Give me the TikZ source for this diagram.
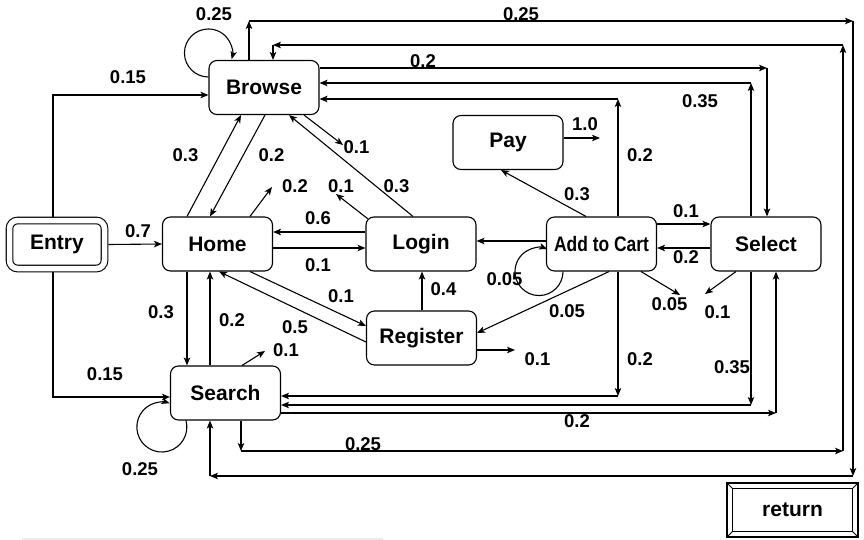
\documentclass[tikz,border=0pt]{standalone}
\usepackage{fontspec}
\usepackage{graphicx}
\setmainfont{Liberation Sans}
\usetikzlibrary{arrows.meta}

\tikzset{
  page/.style={draw, rounded corners=8pt, minimum width=110pt, minimum height=54pt, inner sep=0pt,
    font=\fontsize{21}{24}\selectfont\bfseries},
  lbl/.style={inner sep=0pt, font=\fontsize{18.5}{20}\selectfont\bfseries},
}

\begin{document}
\begin{tikzpicture}[x=1pt, y=-1pt, line width=1.1pt, >={Stealth[length=8pt,width=6.5pt,inset=2pt]}]
    \useasboundingbox (0,0) rectangle (864,540);
    % pages
    \node[page, double, double distance=5.5pt, outer sep=3.9pt, minimum width=95pt, minimum height=48pt] (entry) at (57,244.5) {Entry};
    \node[page] (browse) at (264,87.5) {Browse};
    \node[page] (pay) at (508,142.5) {Pay};
    \node[page] (home) at (217.5,244) {Home};
    \node[page] (login) at (421,244) {Login};
    \node[page] (cart) at (601.5,244) {\scalebox{0.83}[1]{Add to Cart}};
    \node[page] (select) at (766,244) {Select};
    \node[page] (register) at (421.5,338) {Register};
    \node[page] (search) at (225.5,393) {Search};
    \node[page, rounded corners=0pt, minimum width=131pt] (ret) at (792.5,510) {return};
    \draw[line width=0.8pt] ([shift={(6pt,-6pt)}]ret.north west) rectangle ([shift={(-6pt,6pt)}]ret.south east);
    \foreach \a/\dx/\dy in {north west/6pt/-6pt, north east/-6pt/-6pt, south west/6pt/6pt, south east/-6pt/6pt}
        \draw[line width=0.8pt] (ret.\a) -- ++(\dx,\dy);
    \fill[black!8] (22,538) rectangle (383,540);
    % free ends
    \coordinate (homeout) at (272,187);
    \coordinate (browseout) at (343,145);
    \coordinate (loginout) at (336,194);
    \coordinate (searchout) at (265,351);
    \coordinate (registerout) at (515,350);
    \coordinate (payout) at (600,138);
    \coordinate (cartout) at (680,295);
    \coordinate (selectout) at (705,294);
    % entry
    \draw[->] (entry.east) -- (home.west);
    \draw[->] (entry.north -| 53,0) |- (browse.west |- 0,95);
    \draw[->] (entry.south -| 53,0) |- (search.west |- 0,397);
    % self loops
    \draw[->] (browse.west |- 0,77) arc[start angle=-90, end angle=-375, radius=24pt];
    \draw[->] (search.south -| 186,0) arc[start angle=15, end angle=-288, radius=25pt];
    \draw[->] (cart.south -| 563,0) arc[start angle=0, end angle=-290, radius=24pt];
    % straight links
    \draw[->] (browse.south -| 265,0) -- (home.north -| 210,0);
    \draw[->] (home.north -| 187,0) -- (browse.south -| 241,0);
    \draw[->] (home.north -| 250,0) -- (homeout);
    \draw[->] (browse.south -| 304,0) -- (browseout);
    \draw[->] (login.north -| 413,0) -- (browse.south -| 289,0);
    \draw[->] ([shift={(2.3pt,-2.3pt)}]login.north west) -- (loginout);
    \draw[->] (login.west |- 0,232) -- (home.east |- 0,232);
    \draw[->] (home.east |- 0,248) -- (login.west |- 0,248);
    \draw[->] (home.south -| 250,0) -- (register.west |- 0,326);
    \draw[->] (register.west |- 0,342) -- (home.south -| 219,0);
    \draw[->] (home.south -| 187,0) -- (search.north -| 187,0);
    \draw[->] (search.north -| 210,0) -- (home.south -| 210,0);
    \draw[->] (search.north -| 242,0) -- (searchout);
    \draw[->] (register.north -| 422,0) -- (login.south -| 422,0);
    \draw[->] (register.east |- 0,350) -- (registerout);
    \draw[->] (cart.west |- 0,241) -- (login.east |- 0,241);
    \draw[->] (cart.north -| 586,0) -- (pay.south -| 501,0);
    \draw[->] (pay.east |- 0,138) -- (payout);
    \draw[->] (cart.south -| 609,0) -- (register.east |- 0,333);
    \draw[->] (cart.south -| 641,0) -- (cartout);
    \draw[->] (cart.east |- 0,224) -- (select.west |- 0,224);
    \draw[->] (select.west |- 0,248) -- (cart.east |- 0,248);
    \draw[->] (select.south -| 736,0) -- (selectout);
    % routed links
    \coordinate (c1) at (618,99);
    \draw[->] (cart.north -| c1) -- (c1);
    \draw[->] (c1) -- (browse.east |- c1);
    \coordinate (c2) at (767,68);
    \draw[->] (browse.east |- c2) -- (c2);
    \draw[->] (c2) -- (select.north -| c2);
    \coordinate (c3) at (751,83);
    \draw[->] (select.north -| c3) -- (c3);
    \draw[->] (c3) -- (browse.east |- c3);
    \coordinate (c4) at (249,21);
    \coordinate (c5) at (853,21);
    \coordinate (c6) at (853,476);
    \coordinate (c7) at (210,476);
    \draw[->] (browse.north -| c4) -- (c4);
    \draw[->] (c4) -- (c5);
    \draw[->] (c5) -- (c6);
    \draw[->] (c6) -- (c7);
    \draw[->] (c7) -- (search.south -| c7);
    \coordinate (c8) at (241,451);
    \coordinate (c9) at (843,451);
    \coordinate (c10) at (843,45);
    \coordinate (c11) at (273,45);
    \draw[->] (search.south -| c8) -- (c8);
    \draw[->] (c8) -- (c9);
    \draw[->] (c9) -- (c10);
    \draw[->] (c10) -- (c11);
    \draw[->] (c11) -- (browse.north -| c11);
    \coordinate (c12) at (618,396);
    \draw[->] (cart.south -| c12) -- (c12);
    \draw[->] (c12) -- (search.east |- c12);
    \coordinate (c13) at (751,405);
    \draw[->] (select.south -| c13) -- (c13);
    \draw[->] (c13) -- (search.east |- c13);
    \coordinate (c14) at (776,413);
    \draw[->] (search.east |- c14) -- (c14);
    \draw[->] (c14) -- (select.south -| c14);
    % probabilities
    \foreach \x/\y/\p [count=\i] in {128/77/0.15, 105/374/0.15, 138/231/0.7, 214/14.5/0.25,
        271.5/155/0.2, 185.5/155/0.3, 295/186/0.2, 356.5/147.5/0.1, 396.5/186/0.3, 341/186/0.1,
        318/218/0.6, 318/265/0.1, 341/296/0.1, 295/327/0.5, 161/312/0.3, 232/320/0.2,
        286/350/0.1, 443.5/289/0.4, 537.5/359/0.1, 577/194.5/0.3, 585/124.5/1.0, 504.5/279.5/0.05,
        567/311.5/0.05, 669.5/304/0.05, 686/211/0.1, 686/257/0.2, 717.5/312/0.1, 640/155/0.2,
        423/61/0.2, 700/101/0.35, 521/14/0.25, 363/444/0.25, 140/469/0.25, 640/359/0.2,
        732/367/0.35, 577/421/0.2}
        \node[lbl] (p\i) at (\x,\y) {\p};
\end{tikzpicture}
\end{document}
